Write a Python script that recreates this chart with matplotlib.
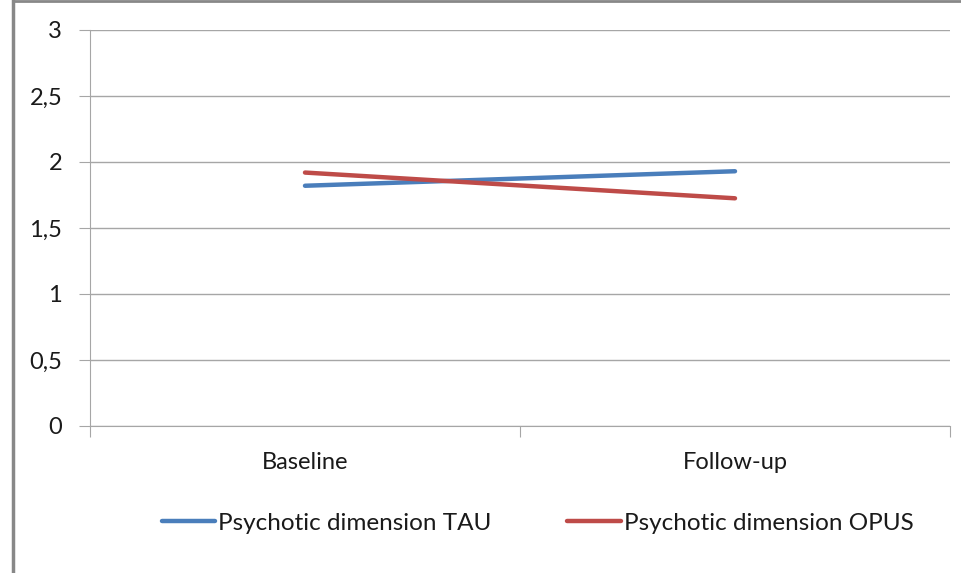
import matplotlib.pyplot as plt
from matplotlib.lines import Line2D
from matplotlib.ticker import FuncFormatter

categories = ['Baseline', 'Follow-up']
tau = [1.82, 1.93]
opus = [1.92, 1.725]
yticks = [0, 0.5, 1, 1.5, 2, 2.5, 3]

plt.rcParams['font.family'] = ['Lato', 'DejaVu Sans']

fig = plt.figure(figsize=(9.61, 5.73), dpi=100)
ax = fig.add_axes([90 / 961, 1 - 426 / 573, 860 / 961, 396 / 573])

x = [0.5, 1.5]
ax.plot(x, tau, color='#4a7ebb', lw=3.2, solid_capstyle='round', label='Psychotic dimension TAU')
ax.plot(x, opus, color='#be4b48', lw=3.2, solid_capstyle='round', label='Psychotic dimension OPUS')

ax.set_xlim(0, 2)
ax.set_ylim(0, 3)
ax.set_yticks(yticks)
ax.yaxis.set_major_formatter(FuncFormatter(lambda v, p: ('%g' % v).replace('.', ',')))
ax.set_xticks([0, 1, 2])
ax.set_xticklabels([])
ax.set_xticks(x, minor=True)
ax.set_xticklabels(categories, minor=True)
ax.tick_params(axis='x', which='minor', length=0, pad=19, labelsize=17, colors='#1a1a1a')
ax.tick_params(axis='x', which='major', length=8, color='#a6a6a6', direction='out')
ax.tick_params(axis='y', length=8, color='#a6a6a6', pad=12, labelsize=17, labelcolor='#1a1a1a')

ax.grid(axis='y', color='#a6a6a6', lw=1)
ax.set_axisbelow(True)
for s in ['top', 'right']:
    ax.spines[s].set_visible(False)
ax.spines['left'].set_color('#a6a6a6')
ax.spines['bottom'].set_color('#a6a6a6')

leg = ax.legend(loc='center left', bbox_to_anchor=(162 / 961, 1 - 523 / 573), bbox_transform=fig.transFigure,
                ncol=2, frameon=False, fontsize=17.5, handlelength=2.2, handletextpad=0.12,
                columnspacing=3.1, borderpad=0, borderaxespad=0)
for t in leg.get_texts():
    t.set_color('#1a1a1a')

# chart border
fig.add_artist(Line2D([13 / 961, 13 / 961], [0, 1], color='#888888', lw=2.5))
fig.add_artist(Line2D([13 / 961, 1], [1 - 1 / 573, 1 - 1 / 573], color='#888888', lw=2))

fig.savefig('out.png', dpi=100)
